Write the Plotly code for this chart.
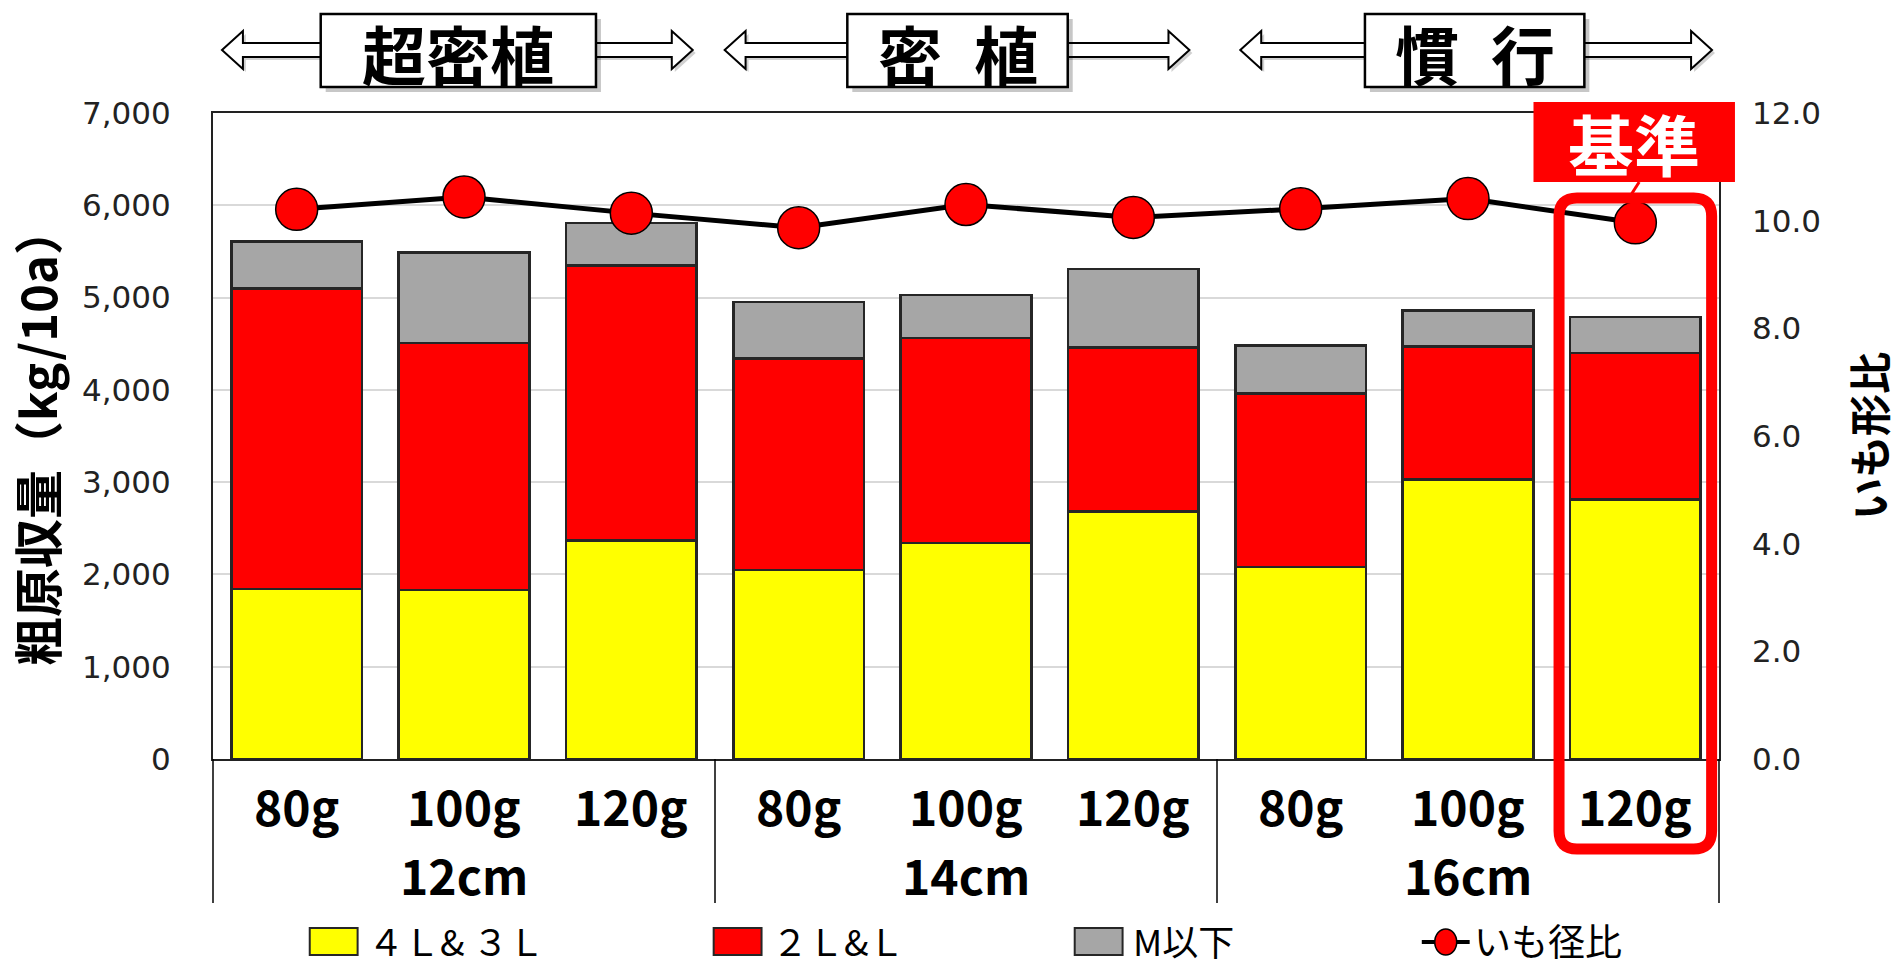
import plotly.graph_objects as go

# ---- data -------------------------------------------------------------
spacing = ["12cm"] * 3 + ["14cm"] * 3 + ["16cm"] * 3
seed_weight = ["80g", "100g", "120g"] * 3
spacing_groups = ["12cm", "14cm", "16cm"]
size_4L3L = [1840, 1830, 2370, 2050, 2340, 2680, 2080, 3030, 2810]
size_2LL = [3260, 2680, 2980, 2290, 2220, 1780, 1880, 1440, 1590]
size_M = [510, 980, 460, 610, 470, 850, 520, 390, 390]
shape_ratio = [10.21, 10.44, 10.14, 9.87, 10.30, 10.06, 10.22, 10.41, 9.96]

series_names = ["４Ｌ& ３Ｌ", "２Ｌ&Ｌ", "M以下"]
series_colors = ["#FFFF00", "#FF0000", "#A6A6A6"]
line_name = "いも径比"
group_titles = ["超密植", "密\u2002植", "慣\u2002行"]
highlight_text = "基準"
highlight_index = 8

JP = "Noto Sans CJK JP"
NUM = "DejaVu Sans"

# ---- geometry of the plotting area (pixels) ---------------------------
FW, FH = 1898, 968
L, R, T, B = 213, 1723, 113, 759
W, H = R - L, B - T
N = len(seed_weight)


def px(xp):
    return (xp - L) / W


def py(yp):
    return (B - yp) / H


x = [spacing, seed_weight]
fig = go.Figure()

for vals, name, color in zip([size_4L3L, size_2LL, size_M], series_names, series_colors):
    fig.add_trace(go.Bar(
        x=x, y=vals, name=name,
        marker=dict(color=color, line=dict(color="#262626", width=2.5)),
        showlegend=False,
    ))

fig.add_trace(go.Scatter(
    x=x, y=shape_ratio, name=line_name, yaxis="y2", mode="lines+markers",
    line=dict(color="#000000", width=5),
    marker=dict(color="#FF0000", size=42, line=dict(color="#000000", width=1.5)),
    showlegend=False,
))

fig.update_layout(
    width=FW, height=FH,
    margin=dict(l=L, r=FW - R, t=T, b=FH - B),
    paper_bgcolor="white", plot_bgcolor="white",
    barmode="stack", bargap=0.22,
    xaxis=dict(
        type="multicategory", range=[-0.5, N - 0.5],
        showline=True, linecolor="#222222", linewidth=2, mirror=True,
        ticks="", showgrid=False, showticklabels=False, showdividers=False,
    ),
    yaxis=dict(
        range=[0, 7000], dtick=1000, tickformat=",",
        showgrid=True, gridcolor="#D9D9D9", gridwidth=2,
        showline=True, linecolor="#222222", linewidth=2, mirror=True,
        ticks="", ticklabelstandoff=34,
        tickfont=dict(family=NUM, size=31, color="#222222"),
        title=dict(text="粗原収量（kg/10a）", standoff=16,
                   font=dict(family=JP, size=49, color="#000000", weight="bold")),
        zeroline=False,
    ),
    yaxis2=dict(
        range=[0, 12], dtick=2, tickformat=".1f", overlaying="y", side="right",
        showgrid=False, showline=False, ticks="", ticklabelstandoff=32,
        tickfont=dict(family=NUM, size=31, color="#222222"),
        title=dict(text="いも形比", standoff=36,
                   font=dict(family=JP, size=42, color="#000000", weight="bold")),
        zeroline=False,
    ),
)

shapes = []
annotations = []

# ---- two-level category labels with group dividers ---------------------
for i, lab in enumerate(seed_weight):
    annotations.append(dict(xref="paper", yref="paper", x=(i + 0.5) / N, y=py(805),
                            text=lab, showarrow=False, xanchor="center", yanchor="middle",
                            font=dict(family=JP, size=48, color="#000000", weight="bold")))
n_per = N // len(spacing_groups)
for g, lab in enumerate(spacing_groups):
    annotations.append(dict(xref="paper", yref="paper", x=(g * n_per + n_per / 2) / N,
                            y=py(874), text=lab, showarrow=False,
                            xanchor="center", yanchor="middle",
                            font=dict(family=JP, size=48, color="#000000", weight="bold")))
for g in range(len(spacing_groups) + 1):
    xd = g * n_per / N
    shapes.append(dict(type="line", xref="paper", yref="paper",
                       x0=xd, x1=xd, y0=py(759), y1=py(903),
                       line=dict(color="#000000", width=1.5)))

# ---- group headers: box with hollow double arrow -----------------------
headers = [
    (321, 597, 222, 694),
    (849, 1070, 726, 1192),
    (1368, 1588, 1243, 1716),
]
cy, hl, hh, sh = 50, 21, 19, 7
y_top, y_bot = 14, 87


def poly(points):
    return "M " + " L ".join(f"{px(a):.5f},{py(b):.5f}" for a, b in points) + " Z"


for (bx0, bx1, tl, tr), title in zip(headers, group_titles):
    left_arrow = [(tl, cy), (tl + hl, cy - hh), (tl + hl, cy - sh), (bx0 + 5, cy - sh),
                  (bx0 + 5, cy + sh), (tl + hl, cy + sh), (tl + hl, cy + hh)]
    right_arrow = [(tr, cy), (tr - hl, cy - hh), (tr - hl, cy - sh), (bx1 - 5, cy - sh),
                   (bx1 - 5, cy + sh), (tr - hl, cy + sh), (tr - hl, cy + hh)]
    for arrow in (left_arrow, right_arrow):
        shadow = [(a + 3, b + 3) for a, b in arrow]
        shapes.append(dict(type="path", xref="paper", yref="paper", path=poly(shadow),
                           fillcolor="rgba(0,0,0,0.18)", line=dict(width=0)))
        shapes.append(dict(type="path", xref="paper", yref="paper", path=poly(arrow),
                           fillcolor="white", line=dict(color="#000000", width=2)))
    shapes.append(dict(type="rect", xref="paper", yref="paper",
                       x0=px(bx0 + 5), x1=px(bx1 + 5), y0=py(y_bot + 5), y1=py(y_top + 5),
                       fillcolor="rgba(0,0,0,0.22)", line=dict(width=0)))
    shapes.append(dict(type="rect", xref="paper", yref="paper",
                       x0=px(bx0), x1=px(bx1), y0=py(y_bot), y1=py(y_top),
                       fillcolor="white", line=dict(color="#000000", width=2.5)))
    annotations.append(dict(xref="paper", yref="paper", x=px((bx0 + bx1) / 2),
                            y=py((y_top + y_bot) / 2 + 1), text=title, showarrow=False,
                            xanchor="center", yanchor="middle",
                            font=dict(family=JP, size=64, color="#000000", weight="bold")))

# ---- highlighted reference bar -----------------------------------------
cx = (highlight_index + 0.5) / N
half_w = 76.5 / W
hx0, hx1 = cx - half_w, cx + half_w
hy0, hy1 = py(849), py(198)
rx, ry = 18 / W, 18 / H
rounded = (
    f"M {hx0 + rx},{hy1} L {hx1 - rx},{hy1} Q {hx1},{hy1} {hx1},{hy1 - ry} "
    f"L {hx1},{hy0 + ry} Q {hx1},{hy0} {hx1 - rx},{hy0} "
    f"L {hx0 + rx},{hy0} Q {hx0},{hy0} {hx0},{hy0 + ry} "
    f"L {hx0},{hy1 - ry} Q {hx0},{hy1} {hx0 + rx},{hy1} Z"
)
shapes.append(dict(type="path", xref="paper", yref="paper", path=rounded,
                   fillcolor="rgba(0,0,0,0)", line=dict(color="#FF0000", width=11)))
shapes.append(dict(type="line", xref="paper", yref="paper",
                   x0=px(1643), y0=py(182), x1=px(1634), y1=py(196),
                   line=dict(color="#FF0000", width=3)))
shapes.append(dict(type="rect", xref="paper", yref="paper",
                   x0=px(1537), x1=px(1739), y0=py(182), y1=py(102),
                   fillcolor="#FF0000", line=dict(width=0)))
annotations.append(dict(xref="paper", yref="paper", x=px(1638), y=py(142),
                        text=highlight_text, showarrow=False,
                        xanchor="center", yanchor="middle",
                        font=dict(family=JP, size=66, color="white", weight="bold")))

# ---- legend ------------------------------------------------------------
leg_y = 940
box_x = [310, 715, 1077]
for bx, name, color in zip(box_x, series_names, series_colors):
    shapes.append(dict(type="rect", xref="paper", yref="paper",
                       x0=px(bx), x1=px(bx + 48), y0=py(leg_y + 15), y1=py(leg_y - 12),
                       fillcolor=color, line=dict(color="#262626", width=2)))
    annotations.append(dict(xref="paper", yref="paper", x=px(bx + 56), y=py(leg_y),
                            text=name, showarrow=False, xanchor="left", yanchor="middle",
                            font=dict(family=JP, size=36, color="#000000")))
shapes.append(dict(type="line", xref="paper", yref="paper",
                   x0=px(1425), x1=px(1473), y0=py(leg_y + 2), y1=py(leg_y + 2),
                   line=dict(color="#000000", width=4)))
shapes.append(dict(type="circle", xref="paper", yref="paper",
                   x0=px(1438), x1=px(1460), y0=py(leg_y + 15), y1=py(leg_y - 11),
                   fillcolor="#FF0000", line=dict(color="#000000", width=1.5)))
annotations.append(dict(xref="paper", yref="paper", x=px(1475), y=py(leg_y),
                        text=line_name, showarrow=False, xanchor="left", yanchor="middle",
                        font=dict(family=JP, size=37, color="#000000")))

fig.update_layout(shapes=shapes, annotations=annotations)
fig.write_html("out.html")
